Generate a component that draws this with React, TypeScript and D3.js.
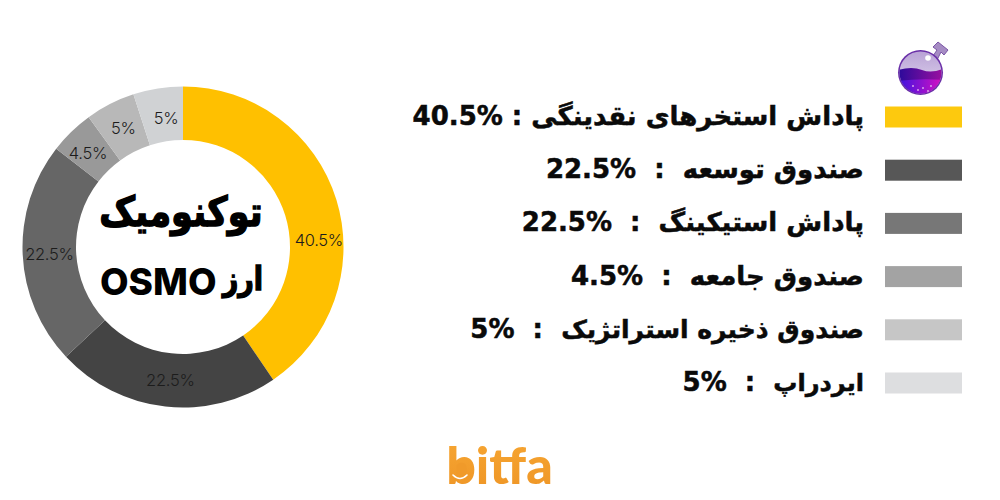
import React from 'react';
import * as d3 from 'd3';

const names = [
  'پاداش استخرهای نقدینگی',
  'صندوق توسعه',
  'پاداش استیکینگ',
  'صندوق جامعه',
  'صندوق ذخیره استراتژیک',
  'ایردراپ',
];
const shares = [40.5, 22.5, 22.5, 4.5, 5, 5];
const sliceColors = ['#ffc000', '#444444', '#666666', '#999999', '#b8b8b8', '#d0d2d4'];
const swatchColors = ['#fdc90e', '#575757', '#777777', '#a3a3a3', '#c6c6c6', '#dddee0'];
const separators = [' : ', '  :  ', '  :  ', '  :  ', '  :  ', '  :  '];

const width = 1000;
const height = 500;
const cx = 183;
const cy = 247;
const persianFont = '"DejaVu Sans", sans-serif';

// the first label sits lower in its slice than the centroid
const labelNudge = [[8, 32], [2, 0], [0, 1], [-2, 2], [1, 0], [4, 3]];
// DejaVu runs a little wide on the last two names
const nameSizes = [26, 26, 26, 26, 25, 24];
const bubbles = [[913, 86], [918, 90], [923, 88], [928, 91], [931, 86]];

const App: React.FC = () => {
  const pie = d3.pie<number>().sort(null).value(d => d);
  const arc = d3.arc<d3.PieArcDatum<number>>().innerRadius(107).outerRadius(160.5);
  const slices = pie(shares);

  const rowY = d3.scaleLinear().domain([0, 5]).range([117, 383]);

  return (
    <svg
      width={width}
      height={height}
      style={{ position: 'absolute', left: 0, top: 0, background: '#fff' }}
    >
      <defs>
        <linearGradient id="liquid" x1="0" x2="1" y1="0" y2="0">
          <stop offset="0%" stopColor="#3a12e0" />
          <stop offset="100%" stopColor="#e010c0" />
        </linearGradient>
        <linearGradient id="liquid-top" x1="0" x2="1" y1="0" y2="0">
          <stop offset="0%" stopColor="#2a0a9a" />
          <stop offset="100%" stopColor="#a010a0" />
        </linearGradient>
        <linearGradient id="glass" x1="0" x2="0" y1="0" y2="1">
          <stop offset="0%" stopColor="#b9a2d6" />
          <stop offset="100%" stopColor="#e4dcf0" />
        </linearGradient>
        <linearGradient id="logo" x1="0" x2="0" y1="0" y2="1">
          <stop offset="0%" stopColor="#f7a733" />
          <stop offset="100%" stopColor="#ee9526" />
        </linearGradient>
        <clipPath id="flask-clip">
          <circle cx={920.5} cy={72.5} r={21} />
        </clipPath>
      </defs>

      <g transform={`translate(${cx},${cy})`}>
        {slices.map((d, i) => (
          <path key={i} d={arc(d) || ''} fill={sliceColors[i]} />
        ))}
        {slices.map((d, i) => {
          const [x, y] = arc.centroid(d);
          return (
            <text
              key={i}
              x={x + labelNudge[i][0]}
              y={y + labelNudge[i][1]}
              textAnchor="middle"
              dominantBaseline="central"
              fontFamily="Inter, sans-serif"
              fontWeight={300}
              fontSize={16.5}
              letterSpacing={-0.3}
              fill="#1c1c1c"
            >
              {shares[i]}%
            </text>
          );
        })}
      </g>

      <text
        transform="translate(181,226) scale(1,1.18)"
        textAnchor="middle"
        direction="rtl"
        fontFamily={persianFont}
        fontWeight={700}
        fontSize={35}
        stroke="#000"
        strokeWidth={1.2}
        fill="#000"
      >
        توکنومیک
      </text>
      <text
        transform="translate(263,290) scale(1,1.2)"
        textAnchor="start"
        direction="rtl"
        fontFamily={persianFont}
        fontWeight={700}
        fontSize={27}
        stroke="#000"
        strokeWidth={1.2}
        fill="#000"
      >
        ارز
      </text>
      <text
        x={100}
        y={295}
        fontFamily="Inter, sans-serif"
        fontWeight={800}
        fontSize={37}
        fill="#000"
      >
        OSMO
      </text>

      {names.map((name, i) => (
        <g key={i}>
          <rect
            x={885}
            y={rowY(i) - 10.5}
            width={77}
            height={21}
            fill={swatchColors[i]}
          />
          <text
            x={864}
            y={rowY(i) + 8}
            textAnchor="start"
            direction="rtl"
            style={{ whiteSpace: 'pre' }}
            fontFamily={persianFont}
            fontWeight={700}
            fontSize={26}
            stroke="#0a0a0a"
            strokeWidth={0.5}
            fill="#0a0a0a"
          >
            <tspan fontSize={nameSizes[i]}>{name}</tspan>
            {`${separators[i]}\u2066${shares[i]}%\u2069`}
          </text>
        </g>
      ))}

      {/* flask icon */}
      <g>
        <path d="M933 56 L937 50 L933 47 L938 42 L948 50 L944 55 L941 52 L937 60 Z" fill="#a68cc4" stroke="#7a55a6" strokeWidth={1} />
        <circle cx={920.5} cy={72.5} r={22.5} fill="#6a2fa8" />
        <circle cx={920.5} cy={72.5} r={21} fill="url(#glass)" />
        <g clipPath="url(#flask-clip)">
          <path d="M898 70 Q912 66 922 70 T945 68 L945 96 L898 96 Z" fill="url(#liquid-top)" />
          <path d="M898 81 Q920 78 945 80 L945 96 L898 96 Z" fill="url(#liquid)" />
        </g>
        <circle cx={928} cy={58} r={2.8} fill="#fff" />
        {bubbles.map(([x, y], i) => (
          <circle key={i} cx={x} cy={y} r={1} fill="#d8a0e8" />
        ))}
      </g>

      {/* bitfa logo */}
      <circle cx={461} cy={471} r={11} fill="#f09a2a" />
      <text
        x={499.5}
        y={484}
        textAnchor="middle"
        fontFamily="Lato, sans-serif"
        fontWeight={900}
        fontSize={52}
        fill="url(#logo)"
      >
        bitfa
      </text>
      <path d="M453 475 Q460 482 467 475" fill="none" stroke="#fff" strokeWidth={1.6} strokeLinecap="round" />
    </svg>
  );
};

export default App;
